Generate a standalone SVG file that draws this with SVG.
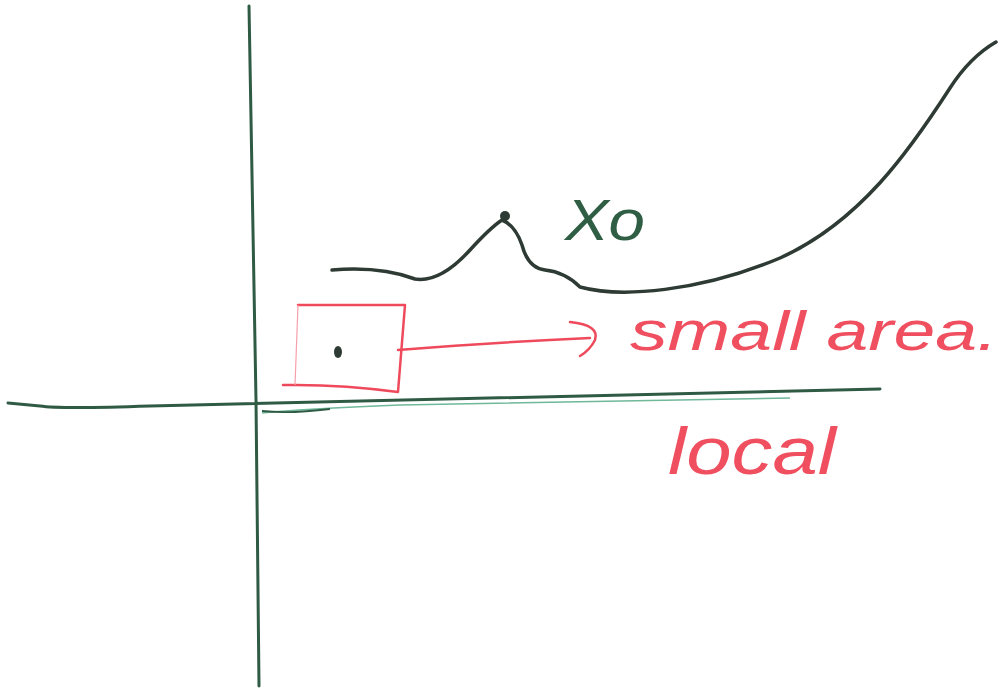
<svg xmlns="http://www.w3.org/2000/svg" width="1001" height="689" viewBox="0 0 1001 689">
<style>
.ax{fill:none;stroke:#2f5a44;stroke-width:3;stroke-linecap:round}
.cur{fill:none;stroke:#2e3a34;stroke-width:3.5;stroke-linecap:round;stroke-linejoin:round}
.red{fill:none;stroke:#ee4a5c;stroke-width:2.5;stroke-linecap:round;stroke-linejoin:round}
.rt{fill:#f04f60;font-family:"Liberation Sans",sans-serif;font-style:italic}
.gt{fill:#2f5e45;font-family:"Liberation Sans",sans-serif;font-style:italic}
</style>
<rect width="1001" height="689" fill="#fff"/>
<g id="axes">
<path class="ax" d="M249,6 Q253,200 256,400 Q258,560 259,686"/>
<path class="ax" d="M8,403 L40,406 Q60,409 150,406 Q400,400 880,389"/>
<path d="M262,413 Q300,409 400,405 Q600,401 790,398" fill="none" stroke="#6fb89a" stroke-width="1.5"/>
<path d="M262,411 Q290,414 330,409" fill="none" stroke="#2f5a44" stroke-width="2"/>
</g>
<g id="curve">
<path class="cur" d="M332,270 Q380,266 415,279 Q440,283 470,250 Q490,228 502,220 Q515,225 522,245 Q528,268 545,270 Q565,272 580,287 C620,298 700,292 780,258 C860,222 910,150 950,88 Q970,57 996,42"/>
<circle cx="505" cy="216" r="5" fill="#2e3a34"/>
</g>
<g id="label-x0">
<text class="gt" x="565" y="240" font-size="58" textLength="80" lengthAdjust="spacingAndGlyphs">Xo</text>
</g>
<g id="small-area">
<path class="red" d="M298,305 L405,305 L398,392 Q340,384 283,385"/>
<path d="M298,305 L295,385" fill="none" stroke="#f5a0aa" stroke-width="1.2"/>
<ellipse cx="338" cy="352" rx="4" ry="6" fill="#2e3a34"/>
</g>
<g id="connectors">
<path class="red" d="M398,350 Q500,342 590,338"/>
<path class="red" stroke-width="3" d="M570,322 Q600,325 595,340 Q590,350 580,356"/>
</g>
<g id="label-small-area">
<text class="rt" x="630" y="350" font-size="56" textLength="368" lengthAdjust="spacingAndGlyphs">small area.</text>
</g>
<g id="label-local">
<text class="rt" x="668" y="474" font-size="66" textLength="168" lengthAdjust="spacingAndGlyphs">local</text>
</g>
</svg>
